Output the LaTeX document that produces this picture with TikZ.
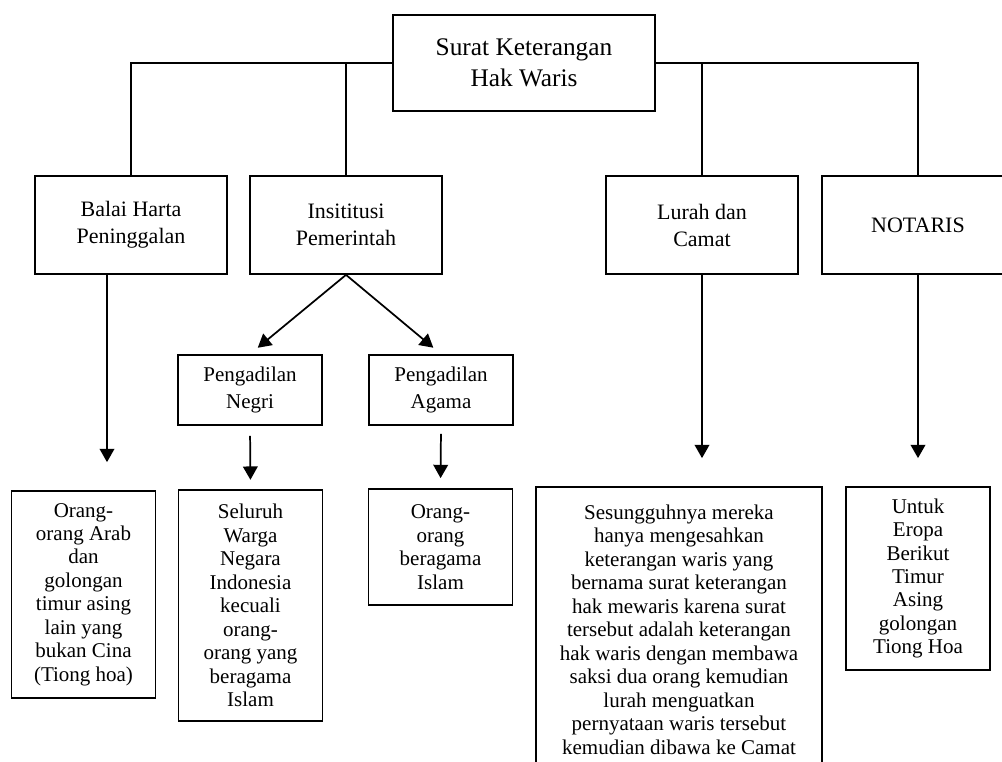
\documentclass[tikz,border=0pt]{standalone}
\usepackage{fontspec}
\setmainfont{Liberation Serif}
\usetikzlibrary{arrows.meta}

\begin{document}
\begin{tikzpicture}[x=0.75pt,y=-0.75pt,line width=1.3pt,>={Triangle[length=10pt,width=11pt]},
        kotak/.style={draw,align=center,inner sep=0pt},
        judul/.style={kotak,minimum width=196.5pt,minimum height=72pt,font=\fontsize{19}{23.25}\selectfont},
        lembaga/.style={kotak,minimum width=144pt,minimum height=73.5pt,font=\fontsize{16.5}{20.25}\selectfont},
        pengadilan/.style={kotak,minimum width=108pt,minimum height=52.5pt,font=\fontsize{15.75}{20.25}\selectfont},
        isi/.style={kotak,minimum width=108pt,font=\fontsize{15.75}{17.6}\selectfont}]
        \clip (0,0) rectangle (1002,762);
        % kotak utama
        \node[judul] (surat) at (524,63) {Surat Keterangan\\Hak Waris};
        % lembaga yang berwenang
        \node[lembaga] (balai) at (131,225) {Balai Harta\\Peninggalan};
        \node[lembaga] (insitusi) at (346,225) {Insititusi\\Pemerintah};
        \node[lembaga] (lurah) at (702,225) {Lurah dan\\Camat};
        \node[lembaga] (notaris) at (918,225) {NOTARIS};
        \node[pengadilan] (negri) at (250,390) {Pengadilan\\Negri};
        \node[pengadilan] (agama) at (441,390) {Pengadilan\\Agama};
        % golongan penduduk
        \node[isi,minimum height=155.25pt] (arab) at (83.5,594.5) {Orang-\\orang Arab\\dan\\golongan\\timur asing\\lain yang\\bukan Cina\\(Tiong hoa)};
        \node[isi,minimum height=173.25pt] (seluruh) at (250.5,605.5) {Seluruh\\Warga\\Negara\\Indonesia\\kecuali\\orang-\\orang yang\\beragama\\Islam};
        \node[isi,minimum height=87pt] (islam) at (440.5,547) {Orang-\\orang\\beragama\\Islam};
        \node[isi,minimum width=214.5pt,minimum height=213.75pt] (camat) at (679,629.5) {Sesungguhnya mereka\\hanya mengesahkan\\keterangan waris yang\\bernama surat keterangan\\hak mewaris karena surat\\tersebut adalah keterangan\\hak waris dengan membawa\\saksi dua orang kemudian\\lurah menguatkan\\pernyataan waris tersebut\\kemudian dibawa ke Camat};
        \node[isi,minimum height=137.25pt] (eropa) at (918,578.5) {Untuk\\Eropa\\Berikut\\Timur\\Asing\\golongan\\Tiong Hoa};
        \coordinate (balaiarah) at (107,274);
        % garis penghubung
        \draw (surat.west) -| (balai.north);
        \draw (insitusi.north) -- (insitusi.north |- surat.west);
        \draw (surat.east) -| (notaris.north);
        \draw (lurah.north) -- (lurah.north |- surat.east);
        \draw[->,shorten >=7.5pt] (insitusi.south) -- (negri.north);
        \draw[->,shorten >=7.5pt] (insitusi.south) -- (agama.north);
        \draw[->,shorten >=21pt] (balaiarah) -- (balaiarah |- arab.north);
        \draw[->,shorten <=7.5pt,shorten >=7pt] (negri.south) -- (seluruh.north);
        \draw[->,shorten <=6pt,shorten >=7.5pt] (agama.south) -- (islam.north);
        \draw[->,shorten >=21pt] (lurah.south) -- (lurah.south |- camat.north);
        \draw[->,shorten >=21pt] (notaris.south) -- (notaris.south |- eropa.north);
\end{tikzpicture}
\end{document}
